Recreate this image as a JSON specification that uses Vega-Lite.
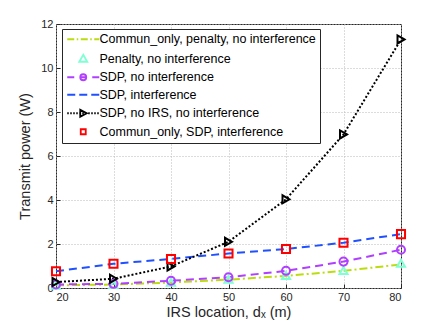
{
  "$schema": "https://vega.github.io/schema/vega-lite/v6.json",
  "width": 345,
  "height": 264,
  "autosize": {"type": "none"},
  "padding": {"left": 56, "top": 24, "right": 42, "bottom": 47},
  "background": "white",
  "config": {
    "font": "Liberation Sans",
    "view": {"stroke": "#262626", "strokeWidth": 1},
    "axis": {
      "domain": false,
      "grid": true,
      "gridColor": "#b8b8b8",
      "gridDash": [1, 2],
      "gridWidth": 1,
      "tickColor": "#262626",
      "tickSize": -4,
      "labelColor": "#262626",
      "labelFontSize": 11,
      "titleColor": "#262626",
      "titleFontSize": 14.5,
      "titleFontWeight": "normal"
    }
  },
  "data": {
    "values": [
      {"s": "Commun_only, penalty, no interference", "x": 20, "y": 0.12},
      {"s": "Commun_only, penalty, no interference", "x": 30, "y": 0.16},
      {"s": "Commun_only, penalty, no interference", "x": 40, "y": 0.25},
      {"s": "Commun_only, penalty, no interference", "x": 50, "y": 0.38},
      {"s": "Commun_only, penalty, no interference", "x": 60, "y": 0.55},
      {"s": "Commun_only, penalty, no interference", "x": 70, "y": 0.78},
      {"s": "Commun_only, penalty, no interference", "x": 80, "y": 1.07},
      {"s": "Penalty, no interference", "x": 20, "y": 0.12},
      {"s": "Penalty, no interference", "x": 30, "y": 0.16},
      {"s": "Penalty, no interference", "x": 40, "y": 0.26},
      {"s": "Penalty, no interference", "x": 50, "y": 0.4},
      {"s": "Penalty, no interference", "x": 60, "y": 0.57},
      {"s": "Penalty, no interference", "x": 70, "y": 0.8},
      {"s": "Penalty, no interference", "x": 80, "y": 1.12},
      {"s": "SDP, no interference", "x": 20, "y": 0.16},
      {"s": "SDP, no interference", "x": 30, "y": 0.19},
      {"s": "SDP, no interference", "x": 40, "y": 0.33},
      {"s": "SDP, no interference", "x": 50, "y": 0.49},
      {"s": "SDP, no interference", "x": 60, "y": 0.78},
      {"s": "SDP, no interference", "x": 70, "y": 1.2},
      {"s": "SDP, no interference", "x": 80, "y": 1.74},
      {"s": "SDP, interference", "x": 20, "y": 0.76},
      {"s": "SDP, interference", "x": 30, "y": 1.1},
      {"s": "SDP, interference", "x": 40, "y": 1.32},
      {"s": "SDP, interference", "x": 50, "y": 1.57},
      {"s": "SDP, interference", "x": 60, "y": 1.77},
      {"s": "SDP, interference", "x": 70, "y": 2.06},
      {"s": "SDP, interference", "x": 80, "y": 2.45},
      {"s": "SDP, no IRS, no interference", "x": 20, "y": 0.27},
      {"s": "SDP, no IRS, no interference", "x": 30, "y": 0.42},
      {"s": "SDP, no IRS, no interference", "x": 40, "y": 0.98},
      {"s": "SDP, no IRS, no interference", "x": 50, "y": 2.1},
      {"s": "SDP, no IRS, no interference", "x": 60, "y": 4.03},
      {"s": "SDP, no IRS, no interference", "x": 70, "y": 6.98},
      {"s": "SDP, no IRS, no interference", "x": 80, "y": 11.3},
      {"s": "Commun_only, SDP, interference", "x": 20, "y": 0.76},
      {"s": "Commun_only, SDP, interference", "x": 30, "y": 1.1},
      {"s": "Commun_only, SDP, interference", "x": 40, "y": 1.32},
      {"s": "Commun_only, SDP, interference", "x": 50, "y": 1.57},
      {"s": "Commun_only, SDP, interference", "x": 60, "y": 1.77},
      {"s": "Commun_only, SDP, interference", "x": 70, "y": 2.06},
      {"s": "Commun_only, SDP, interference", "x": 80, "y": 2.45}
    ]
  },
  "layer": [
    {
      "transform": [{"filter": {"field": "s", "oneOf": ["Commun_only, penalty, no interference", "SDP, no interference", "SDP, interference", "SDP, no IRS, no interference"]}}],
      "mark": {"type": "line", "strokeWidth": 2, "clip": false},
      "encoding": {
        "x": {"field": "x", "type": "quantitative", "scale": {"domain": [20, 80], "nice": false}, "axis": {"values": [20, 30, 40, 50, 60, 70, 80], "title": "IRS location, dₓ (m)", "labelPadding": 7, "titlePadding": 3}},
        "y": {"field": "y", "type": "quantitative", "scale": {"domain": [0, 12], "nice": false}, "axis": {"values": [0, 2, 4, 6, 8, 10, 12], "title": "Transmit power (W)", "labelPadding": 7, "titlePadding": 8}},
        "color": {
          "field": "s", "type": "nominal",
          "scale": {
            "domain": ["Commun_only, penalty, no interference", "Penalty, no interference", "SDP, no interference", "SDP, interference", "SDP, no IRS, no interference", "Commun_only, SDP, interference"],
            "range": ["#bcdc10", "#7fffd4", "#b040ff", "#2050ff", "#000000", "#ff0000"]
          },
          "legend": {
            "title": null,
            "orient": "none",
            "legendX": 6,
            "legendY": 5,
            "padding": 4,
            "fillColor": "white",
            "strokeColor": "#262626",
            "cornerRadius": 0,
            "symbolSize": 100,
            "labelOffset": 21,
            "rowPadding": 4.5,
            "labelFontSize": 12.5,
            "labelColor": "#000000",
            "labelLimit": 400,
            "encode": {
              "symbols": {
                "update": {
                  "shape": {"signal": "['M-1,0H0.4M0.9,0H1.2M1.7,0H3.1M3.6,0H3.9M4.4,0H5.4', 'M2.2,-0.8L3.0,0.6L1.4,0.6Z', 'M-1,0H0.4M1.6,0H2.8M4.0,0H5.4M2.8,0A0.6,0.6 0 1,1 1.6,0A0.6,0.6 0 1,1 2.8,0', 'M-1,0H0.6M1.4,0H3.0M3.8,0H5.4', 'M-1,0H-0.7M-0.4,0H-0.1M0.2,0H0.5M0.8,0H1.1M1.4,0H1.7M2,0H2.3M2.6,0H2.9M3.2,0H3.5M3.8,0H4.1M4.4,0H4.7M5,0H5.3M1.6,-0.7L2.9,0L1.6,0.7Z', 'M1.7,-0.5H2.7V0.5H1.7Z'][indexof(['Commun_only, penalty, no interference', 'Penalty, no interference', 'SDP, no interference', 'SDP, interference', 'SDP, no IRS, no interference', 'Commun_only, SDP, interference'], datum.value)]"},
                  "fill": {"value": "transparent"},
                  "stroke": {"scale": "color", "field": "value"},
                  "strokeWidth": {"value": 1.8},
                  "strokeDash": {"value": []},
                  "opacity": {"value": 1}
                }
              }
            }
          }
        },
        "strokeDash": {
          "field": "s", "type": "nominal",
          "scale": {
            "domain": ["Commun_only, penalty, no interference", "SDP, no interference", "SDP, interference", "SDP, no IRS, no interference"],
            "range": [[8, 3, 2, 3], [8, 5], [8, 5], [2, 2]]
          },
          "legend": null
        }
      }
    },
    {
      "transform": [{"filter": {"field": "s", "oneOf": ["Penalty, no interference", "SDP, no interference", "SDP, no IRS, no interference", "Commun_only, SDP, interference"]}}],
      "mark": {"type": "point", "filled": false, "strokeWidth": 2, "size": 65, "opacity": 1, "clip": false},
      "encoding": {
        "x": {"field": "x", "type": "quantitative"},
        "y": {"field": "y", "type": "quantitative"},
        "color": {"field": "s", "type": "nominal"},
        "shape": {
          "field": "s", "type": "nominal",
          "scale": {
            "domain": ["Penalty, no interference", "SDP, no interference", "SDP, no IRS, no interference", "Commun_only, SDP, interference"],
            "range": ["triangle-up", "circle", "triangle-right", "square"]
          },
          "legend": null
        }
      }
    }
  ]
}
